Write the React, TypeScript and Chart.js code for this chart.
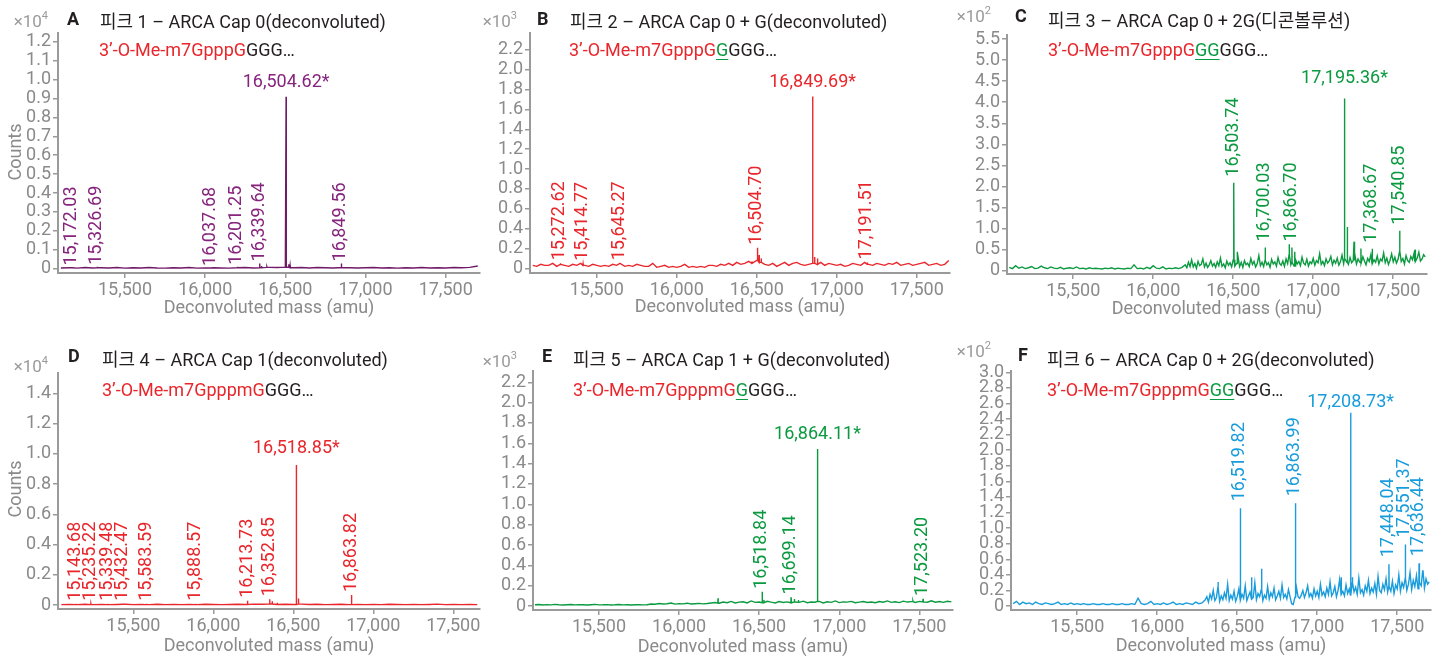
import React, { useEffect, useRef } from "react";
import { Chart, registerables } from "chart.js";

Chart.register(...registerables);

const FONT = "Roboto, 'Noto Sans', 'Noto Sans CJK KR', sans-serif";
const TICK_COLOR = "#8a8a8a";
const AXIS_COLOR = "#9a9a9a";
const TITLE_COLOR = "#231f20";
const RED = "#e8262b";
const GREEN = "#0b9a40";
const PURPLE_LINE = "#701a68";
const PURPLE_TEXT = "#86247e";
const BLUE = "#199cdb";

const Y_AXIS_W = 58;
const X_AXIS_H = 30;
const TOP_PAD = 15;
const RIGHT_PAD = 4;

// shared x ticks (amu)
const X_TICKS = [15500, 16000, 16500, 17000, 17500];

// ---------- Panel A : 피크 1 (×10^4 counts) ----------
const A_Y_TICKS = [0, 0.1, 0.2, 0.3, 0.4, 0.5, 0.6, 0.7, 0.8, 0.9, 1.0, 1.1, 1.2];
const A_NOISE_START = 15100;
const A_NOISE_STEP = 50;
const A_NOISE = [
  0.004, 0.005, 0.003, 0.006, 0.004, 0.005, 0.004, 0.006, 0.003, 0.005,
  0.004, 0.006, 0.004, 0.003, 0.005, 0.004, 0.006, 0.003, 0.004, 0.005,
  0.004, 0.003, 0.005, 0.006, 0.004, 0.005, 0.007, 0.006, 0.008, 0.005,
  0.006, 0.004, 0.006, 0.005, 0.004, 0.006, 0.005, 0.004, 0.005, 0.006,
  0.004, 0.005, 0.003, 0.005, 0.004, 0.006, 0.004, 0.005, 0.004, 0.006,
  0.005, 0.007, 0.014,
];
const A_PEAK_MASS = [15172.03, 15326.69, 16037.68, 16201.25, 16339.64, 16352, 16385, 16504.62, 16521, 16530, 16849.56];
const A_PEAK_HEIGHT = [0.006, 0.01, 0.004, 0.01, 0.028, 0.014, 0.01, 0.909, 0.024, 0.015, 0.028];
const A_PEAK_LABEL = [1, 1, 1, 1, 1, 0, 0, 2, 0, 0, 1];

// ---------- Panel B : 피크 2 (×10^3 counts) ----------
const B_Y_TICKS = [0, 0.2, 0.4, 0.6, 0.8, 1.0, 1.2, 1.4, 1.6, 1.8, 2.0, 2.2];
const B_NOISE_START = 15100;
const B_NOISE_STEP = 25;
const B_NOISE = [
  0.03, 0.02, 0.04, 0.03, 0.03, 0.05, 0.02, 0.04, 0.03, 0.02,
  0.04, 0.03, 0.05, 0.03, 0.02, 0.04, 0.03, 0.02, 0.03, 0.02,
  0.04, 0.03, 0.05, 0.02, 0.03, 0.02, 0.04, 0.03, 0.02,
  0.02, 0.05, 0.01, 0.02, 0.03, 0.01, 0.02, 0.01, 0.02, 0.04,
  0.01, 0.02, 0.01, 0.02, 0.01, 0.03,
  0.03, 0.02, 0.04, 0.03, 0.05, 0.03, 0.06, 0.04, 0.05, 0.07, 0.05, 0.08,
  0.06, 0.04, 0.03, 0.05, 0.02, 0.04, 0.06, 0.03, 0.05, 0.06, 0.04, 0.03, 0.04,
  0.05, 0.04, 0.06, 0.03, 0.05, 0.04, 0.03, 0.04, 0.02, 0.03,
  0.05, 0.04, 0.03, 0.06, 0.04, 0.03, 0.05, 0.04, 0.03, 0.05,
  0.04, 0.06, 0.03, 0.04, 0.05, 0.03, 0.04, 0.05, 0.06, 0.03,
  0.04, 0.05, 0.03, 0.04, 0.08,
];
const B_PEAK_MASS = [15272.62, 15414.77, 15645.27, 16470, 16504.7, 16515, 16528, 16849.69, 16862, 16880, 17191.51];
const B_PEAK_HEIGHT = [0.05, 0.045, 0.05, 0.07, 0.208, 0.134, 0.1, 1.73, 0.114, 0.1, 0.06];
const B_PEAK_LABEL = [1, 1, 1, 0, 1, 0, 0, 2, 0, 0, 1];

// ---------- Panel C : 피크 3 (×10^2 counts) ----------
const C_Y_TICKS = [0, 0.5, 1.0, 1.5, 2.0, 2.5, 3.0, 3.5, 4.0, 4.5, 5.0, 5.5];
const C_NOISE_LOW_START = 15100;
const C_NOISE_LOW_STEP = 20;
const C_NOISE_LOW = [
  0.08, 0.05, 0.12, 0.06, 0.09, 0.05, 0.07, 0.1, 0.05, 0.06,
  0.11, 0.07, 0.05, 0.09, 0.06, 0.05, 0.08, 0.04, 0.06, 0.07,
  0.05, 0.09, 0.05, 0.06, 0.04, 0.07, 0.05, 0.06, 0.05, 0.04,
  0.06, 0.05, 0.07, 0.04, 0.06, 0.05, 0.04, 0.06, 0.05, 0.14,
  0.05, 0.06, 0.04, 0.08, 0.05, 0.12, 0.06, 0.05, 0.09, 0.04,
  0.06, 0.05, 0.07, 0.05, 0.08,
];
const C_NOISE_HIGH_START = 16200;
const C_NOISE_HIGH_STEP = 10;
const C_NOISE_HIGH = [
  0.14, 0.07, 0.2, 0.1, 0.26, 0.09, 0.17, 0.06, 0.22, 0.12,
  0.15, 0.28, 0.09, 0.18, 0.08, 0.14, 0.24, 0.11, 0.17, 0.08,
  0.21, 0.12, 0.3, 0.1, 0.16, 0.07, 0.23, 0.13, 0.19, 0.09,
  0.26, 0.11, 0.17, 0.33, 0.1, 0.2, 0.08, 0.24, 0.14, 0.18,
  0.1, 0.29, 0.15, 0.22, 0.09, 0.17, 0.36, 0.12, 0.2, 0.1,
  0.25, 0.14, 0.19, 0.08, 0.27, 0.16, 0.21, 0.11, 0.31, 0.17,
  0.13, 0.23, 0.1, 0.28, 0.17, 0.38, 0.14, 0.2, 0.11, 0.26,
  0.16, 0.22, 0.12, 0.32, 0.18, 0.14, 0.27, 0.11, 0.21, 0.17,
  0.29, 0.13, 0.24, 0.19, 0.4, 0.15, 0.22, 0.12, 0.28, 0.18,
  0.23, 0.34, 0.14, 0.25, 0.18, 0.3, 0.13, 0.21, 0.37, 0.17,
  0.27, 0.2, 0.15, 0.31, 0.19, 0.24, 0.43, 0.16, 0.28, 0.21,
  0.18, 0.33, 0.23, 0.14, 0.29, 0.22, 0.38, 0.17, 0.26, 0.2,
  0.35, 0.16, 0.28, 0.23, 0.42, 0.19, 0.3, 0.15, 0.25, 0.4,
  0.21, 0.32, 0.18, 0.27, 0.46, 0.22, 0.29, 0.16, 0.36, 0.24,
  0.2, 0.34, 0.26, 0.41, 0.22, 0.3, 0.44, 0.23, 0.28, 0.38,
  0.33,
];
const C_PEAK_MASS = [16503.74, 16525, 16700.03, 16850, 16866.7, 16885, 17195.36, 17213, 17255, 17298, 17368.67, 17540.85, 17636];
const C_PEAK_HEIGHT = [2.09, 0.45, 0.55, 0.63, 0.55, 0.45, 4.09, 1.04, 0.69, 0.53, 0.52, 0.95, 0.5];
const C_PEAK_LABEL = [1, 0, 1, 0, 1, 0, 2, 0, 0, 0, 1, 1, 0];

// ---------- Panel D : 피크 4 (×10^4 counts) ----------
const D_Y_TICKS = [0, 0.2, 0.4, 0.6, 0.8, 1.0, 1.2, 1.4];
const D_NOISE_START = 15050;
const D_NOISE_STEP = 50;
const D_NOISE = [
  0.003, 0.004, 0.003, 0.005, 0.003, 0.004, 0.003, 0.004, 0.005, 0.003,
  0.004, 0.003, 0.005, 0.003, 0.004, 0.003, 0.004, 0.003, 0.005, 0.004,
  0.003, 0.004, 0.005, 0.004, 0.006, 0.005, 0.007, 0.004, 0.005, 0.004,
  0.006, 0.004, 0.005, 0.003, 0.004, 0.005, 0.003, 0.004, 0.003, 0.004,
  0.003, 0.005, 0.004, 0.003, 0.004, 0.003, 0.004, 0.006, 0.003, 0.004,
  0.003, 0.004, 0.003,
];
const D_PEAK_MASS = [15143.68, 15235.22, 15339.48, 15432.47, 15583.59, 15888.57, 16213.73, 16352.85, 16368, 16400, 16518.85, 16532, 16863.82];
const D_PEAK_HEIGHT = [0.008, 0.008, 0.008, 0.008, 0.008, 0.008, 0.028, 0.038, 0.025, 0.015, 0.926, 0.044, 0.066];
const D_PEAK_LABEL = [1, 1, 1, 1, 1, 1, 1, 1, 0, 0, 2, 0, 1];

// ---------- Panel E : 피크 5 (×10^3 counts) ----------
const E_Y_TICKS = [0, 0.2, 0.4, 0.6, 0.8, 1.0, 1.2, 1.4, 1.6, 1.8, 2.0, 2.2];
const E_NOISE_START = 15100;
const E_NOISE_STEP = 25;
const E_NOISE = [
  0.012, 0.015, 0.01, 0.014, 0.011, 0.016, 0.012, 0.01, 0.013, 0.015,
  0.011, 0.014, 0.012, 0.01, 0.013, 0.016, 0.011, 0.012, 0.014, 0.01,
  0.012, 0.015, 0.011, 0.013, 0.01, 0.012, 0.014, 0.011, 0.013,
  0.02, 0.018, 0.025, 0.02, 0.022, 0.03, 0.019, 0.024, 0.021, 0.028,
  0.02, 0.023, 0.026, 0.021, 0.025, 0.03,
  0.035, 0.028, 0.04, 0.032, 0.045, 0.03, 0.038, 0.042, 0.031, 0.05,
  0.036, 0.04, 0.033, 0.047, 0.038, 0.03, 0.044, 0.035, 0.041, 0.032,
  0.04, 0.036, 0.048, 0.033, 0.04, 0.037, 0.045, 0.03, 0.042, 0.036,
  0.05, 0.034, 0.041, 0.038, 0.046, 0.032, 0.039, 0.044, 0.035, 0.04,
  0.033, 0.045, 0.038, 0.05, 0.036, 0.042, 0.034, 0.048, 0.039, 0.043,
  0.035, 0.046, 0.04, 0.037, 0.052, 0.038, 0.044, 0.036, 0.047, 0.041,
];
const E_PEAK_MASS = [16243, 16518.84, 16530, 16699.14, 16720, 16745, 16864.11, 17460, 17523.2];
const E_PEAK_HEIGHT = [0.076, 0.14, 0.06, 0.085, 0.07, 0.06, 1.544, 0.05, 0.07];
const E_PEAK_LABEL = [0, 1, 0, 1, 0, 0, 2, 0, 1];

// ---------- Panel F : 피크 6 (×10^2 counts) ----------
const F_Y_TICKS = [0, 0.2, 0.4, 0.6, 0.8, 1.0, 1.2, 1.4, 1.6, 1.8, 2.0, 2.2, 2.4, 2.6, 2.8, 3.0];
const F_NOISE_LOW_START = 15100;
const F_NOISE_LOW_STEP = 20;
const F_NOISE_LOW = [
  0.03, 0.06, 0.02, 0.05, 0.03, 0.04, 0.02, 0.05, 0.03, 0.02,
  0.04, 0.03, 0.02, 0.03, 0.05, 0.02, 0.03, 0.02, 0.04, 0.02,
  0.03, 0.02, 0.03, 0.02, 0.02, 0.03, 0.02, 0.02, 0.03, 0.02,
  0.02, 0.03, 0.02, 0.02, 0.03, 0.02, 0.02, 0.03, 0.02, 0.1,
  0.03, 0.02, 0.03, 0.06, 0.02, 0.03, 0.02, 0.04, 0.02, 0.03,
  0.05, 0.02, 0.03, 0.02, 0.04, 0.03, 0.02, 0.05, 0.03, 0.04,
];
const F_NOISE_HIGH_START = 16300;
const F_NOISE_HIGH_STEP = 10;
const F_NOISE_HIGH = [
  0.08, 0.12, 0.05, 0.15, 0.09, 0.2, 0.07, 0.11, 0.24, 0.06,
  0.13, 0.08, 0.17, 0.1, 0.28, 0.07, 0.14, 0.09, 0.19, 0.06,
  0.12, 0.22, 0.08, 0.15, 0.1, 0.26, 0.07, 0.13, 0.18, 0.09,
  0.11, 0.3, 0.08, 0.16, 0.12, 0.21, 0.07, 0.14, 0.1, 0.25,
  0.09, 0.17, 0.12, 0.23, 0.08, 0.13, 0.19, 0.1, 0.27, 0.11,
  0.15, 0.09, 0.21, 0.12, 0.03, 0.02, 0.11, 0.24, 0.12, 0.1,
  0.14, 0.2, 0.11, 0.17, 0.26, 0.12, 0.16, 0.1, 0.22, 0.13,
  0.19, 0.11, 0.28, 0.14, 0.18, 0.12, 0.23, 0.15, 0.31, 0.13,
  0.17, 0.25, 0.12, 0.2, 0.34, 0.15, 0.19, 0.13, 0.27, 0.16,
  0.22, 0.14, 0.3, 0.18, 0.24, 0.15, 0.36, 0.17, 0.21, 0.14,
  0.26, 0.19, 0.33, 0.16, 0.23, 0.18, 0.29, 0.15, 0.38, 0.2,
  0.17, 0.28, 0.21, 0.35, 0.18, 0.25, 0.19, 0.32, 0.16, 0.27,
  0.22, 0.4, 0.19, 0.3, 0.24, 0.36, 0.2, 0.28, 0.43, 0.21,
  0.33, 0.25, 0.39, 0.22, 0.3, 0.26, 0.45, 0.23, 0.35, 0.28,
  0.31,
];
const F_PEAK_MASS = [16380, 16519.82, 16590, 16653, 16863.99, 17150, 17208.73, 17220, 17448.04, 17551.37, 17636.44, 17660];
const F_PEAK_HEIGHT = [0.31, 1.254, 0.37, 0.48, 1.318, 0.37, 2.48, 0.37, 0.535, 0.79, 0.55, 0.45];
const F_PEAK_LABEL = [0, 1, 0, 0, 1, 0, 2, 0, 1, 1, 1, 0];

type Segment = { start: number; step: number; values: number[] };

type Panel = {
  key: string;
  letter: string;
  title: string;
  subRed: string;
  subGreen: string;
  exp: string;
  noise: Segment[];
  mass: number[];
  height: number[];
  kind: number[];
  yTicks: number[];
  yMin: number;
  yMax: number;
  xMin: number;
  xMax: number;
  rect: number[];
  color: string;
  textColor: string;
  labelGap: number;
  mainGap: number;
  letterPos: number[];
  titlePos: number[];
  subPos: number[];
  expPos: number[];
  xTitleTop: number;
  counts?: number[];
};

const PANELS: Panel[] = [
  {
    key: "A", letter: "A", title: "피크 1 – ARCA Cap 0(deconvoluted)", subRed: "3’-O-Me-m7GpppG", subGreen: "", exp: "4",
    noise: [{ start: A_NOISE_START, step: A_NOISE_STEP, values: A_NOISE }],
    mass: A_PEAK_MASS, height: A_PEAK_HEIGHT, kind: A_PEAK_LABEL, yTicks: A_Y_TICKS,
    yMin: -0.0227, yMax: 1.246, xMin: 15082, xMax: 17714,
    rect: [58, 33, 480, 273], color: PURPLE_LINE, textColor: PURPLE_TEXT, labelGap: 2, mainGap: 10,
    letterPos: [67, 9], titlePos: [100, 11.5], subPos: [99, 40], expPos: [48, 11], xTitleTop: 296.5, counts: [14.5, 152],
  },
  {
    key: "B", letter: "B", title: "피크 2 – ARCA Cap 0 + G(deconvoluted)", subRed: "3’-O-Me-m7GpppG", subGreen: "G", exp: "3",
    noise: [{ start: B_NOISE_START, step: B_NOISE_STEP, values: B_NOISE }],
    mass: B_PEAK_MASS, height: B_PEAK_HEIGHT, kind: B_PEAK_LABEL, yTicks: B_Y_TICKS,
    yMin: -0.047, yMax: 2.371, xMin: 15083, xMax: 17708,
    rect: [530, 33, 950, 273], color: RED, textColor: RED, labelGap: 3, mainGap: 10,
    letterPos: [537, 8.5], titlePos: [570, 11.5], subPos: [569, 40], expPos: [517, 11], xTitleTop: 296,
  },
  {
    key: "C", letter: "C", title: "피크 3 – ARCA Cap 0 + 2G(디콘볼루션)", subRed: "3’-O-Me-m7GpppG", subGreen: "GG", exp: "2",
    noise: [
      { start: C_NOISE_LOW_START, step: C_NOISE_LOW_STEP, values: C_NOISE_LOW },
      { start: C_NOISE_HIGH_START, step: C_NOISE_HIGH_STEP, values: C_NOISE_HIGH },
    ],
    mass: C_PEAK_MASS, height: C_PEAK_HEIGHT, kind: C_PEAK_LABEL, yTicks: C_Y_TICKS,
    yMin: -0.078, yMax: 5.595, xMin: 15086, xMax: 17711,
    rect: [1007, 35, 1427, 274], color: GREEN, textColor: GREEN, labelGap: 6, mainGap: 15,
    letterPos: [1015, 6], titlePos: [1048, 10.5], subPos: [1048, 40], expPos: [991, 6], xTitleTop: 298,
  },
  {
    key: "D", letter: "D", title: "피크 4 – ARCA Cap 1(deconvoluted)", subRed: "3’-O-Me-m7GpppmG", subGreen: "", exp: "4",
    noise: [{ start: D_NOISE_START, step: D_NOISE_STEP, values: D_NOISE }],
    mass: D_PEAK_MASS, height: D_PEAK_HEIGHT, kind: D_PEAK_LABEL, yTicks: D_Y_TICKS,
    yMin: -0.026, yMax: 1.534, xMin: 15029, xMax: 17667,
    rect: [58, 373, 480, 609], color: RED, textColor: RED, labelGap: 3, mainGap: 12,
    letterPos: [68, 346], titlePos: [102, 349.5], subPos: [102, 380], expPos: [48, 356], xTitleTop: 634.5, counts: [14.5, 489],
  },
  {
    key: "E", letter: "E", title: "피크 5 – ARCA Cap 1 + G(deconvoluted)", subRed: "3’-O-Me-m7GpppmG", subGreen: "G", exp: "3",
    noise: [{ start: E_NOISE_START, step: E_NOISE_STEP, values: E_NOISE }],
    mass: E_PEAK_MASS, height: E_PEAK_HEIGHT, kind: E_PEAK_LABEL, yTicks: E_Y_TICKS,
    yMin: -0.039, yMax: 2.311, xMin: 15088, xMax: 17710,
    rect: [533, 371, 953, 610], color: GREEN, textColor: GREEN, labelGap: 3, mainGap: 10,
    letterPos: [542, 346], titlePos: [573, 349.5], subPos: [573, 379.5], expPos: [517, 351], xTitleTop: 635.5,
  },
  {
    key: "F", letter: "F", title: "피크 6 – ARCA Cap 0 + 2G(deconvoluted)", subRed: "3’-O-Me-m7GpppmG", subGreen: "GG", exp: "2",
    noise: [
      { start: F_NOISE_LOW_START, step: F_NOISE_LOW_STEP, values: F_NOISE_LOW },
      { start: F_NOISE_HIGH_START, step: F_NOISE_HIGH_STEP, values: F_NOISE_HIGH },
    ],
    mass: F_PEAK_MASS, height: F_PEAK_HEIGHT, kind: F_PEAK_LABEL, yTicks: F_Y_TICKS,
    yMin: -0.051, yMax: 3.017, xMin: 15086, xMax: 17711,
    rect: [1011, 371, 1431, 610], color: BLUE, textColor: BLUE, labelGap: 7, mainGap: 6,
    letterPos: [1018, 345], titlePos: [1047, 350], subPos: [1047, 379.5], expPos: [991, 341], xTitleTop: 635,
  },
];

function fmtMass(m: number) {
  return m.toLocaleString("en-US", { minimumFractionDigits: 2, maximumFractionDigits: 2 });
}

function buildSpectrum(p: Panel) {
  const noisePts: { x: number; y: number }[] = [];
  p.noise.forEach((seg) => {
    seg.values.forEach((v, i) => noisePts.push({ x: seg.start + i * seg.step, y: v }));
  });
  noisePts.sort((a, b) => a.x - b.x);
  const pts = noisePts.slice();
  p.mass.forEach((m, i) => {
    let base = noisePts[0].y;
    let best = Infinity;
    noisePts.forEach((q) => {
      const d = Math.abs(q.x - m);
      if (d < best) {
        best = d;
        base = q.y;
      }
    });
    base = Math.min(base, p.height[i]);
    pts.push({ x: m - 1.2, y: base }, { x: m, y: p.height[i] }, { x: m + 1.2, y: base });
  });
  pts.sort((a, b) => a.x - b.x);
  return pts;
}

function makeLabelPlugin(p: Panel) {
  return {
    id: "peakLabels" + p.key,
    afterDatasetsDraw(chart: any) {
      const { ctx } = chart;
      const xs = chart.scales.x;
      const ys = chart.scales.y;
      ctx.save();
      ctx.fillStyle = p.textColor;
      ctx.font = `18px ${FONT}`;
      p.mass.forEach((m, i) => {
        const kind = p.kind[i];
        if (!kind) return;
        const px = xs.getPixelForValue(m);
        const py = ys.getPixelForValue(p.height[i]);
        const text = fmtMass(m);
        if (kind === 2) {
          ctx.textAlign = "center";
          ctx.textBaseline = "alphabetic";
          ctx.fillText(text + "*", px, py - p.mainGap);
        } else {
          ctx.save();
          ctx.translate(px + 4, py - p.labelGap);
          ctx.rotate(-Math.PI / 2);
          ctx.textAlign = "left";
          ctx.textBaseline = "alphabetic";
          ctx.fillText(text, 0, 0);
          ctx.restore();
        }
      });
      ctx.restore();
    },
  };
}

function SpectrumChart({ p }: { p: Panel }) {
  const ref = useRef<HTMLCanvasElement>(null);
  const [L, T, R, B] = p.rect;
  const width = R - L + Y_AXIS_W + RIGHT_PAD;
  const height = B - T + TOP_PAD + X_AXIS_H;

  useEffect(() => {
    if (!ref.current) return;
    const data = buildSpectrum(p);
    const tickFont = { family: FONT, size: 18 };
    const chart = new Chart(ref.current, {
      type: "line",
      data: {
        datasets: [
          { data, borderColor: p.color, borderWidth: 1.4, pointRadius: 0, tension: 0, borderJoinStyle: "miter" },
        ],
      },
      options: {
        animation: false,
        responsive: false,
        events: [],
        layout: { padding: { top: TOP_PAD, right: RIGHT_PAD, left: 0, bottom: 0 } },
        plugins: { legend: { display: false }, tooltip: { enabled: false } },
        scales: {
          x: {
            type: "linear",
            min: p.xMin,
            max: p.xMax,
            afterBuildTicks: (s: any) => {
              s.ticks = X_TICKS.map((v) => ({ value: v }));
            },
            afterFit: (s: any) => {
              s.height = X_AXIS_H;
            },
            ticks: {
              autoSkip: false,
              maxRotation: 0,
              padding: 2,
              color: TICK_COLOR,
              font: tickFont,
              callback: (v: any) => Number(v).toLocaleString("en-US"),
            },
            grid: { drawOnChartArea: false, drawTicks: true, tickLength: 5, color: AXIS_COLOR, lineWidth: 1.5 },
            border: { display: true, color: AXIS_COLOR, width: 2 },
          },
          y: {
            type: "linear",
            min: p.yMin,
            max: p.yMax,
            afterBuildTicks: (s: any) => {
              s.ticks = p.yTicks.map((v) => ({ value: v }));
            },
            afterFit: (s: any) => {
              s.width = Y_AXIS_W;
            },
            ticks: {
              autoSkip: false,
              padding: 2,
              color: TICK_COLOR,
              font: tickFont,
              callback: (v: any) => (Number(v) === 0 ? "0" : Number(v).toFixed(1)),
            },
            grid: { drawOnChartArea: false, drawTicks: true, tickLength: 5, color: AXIS_COLOR, lineWidth: 1.5 },
            border: { display: true, color: AXIS_COLOR, width: 2 },
          },
        },
      },
      plugins: [makeLabelPlugin(p)],
    } as any);
    return () => chart.destroy();
  }, [p]);

  return (
    <canvas
      ref={ref}
      width={width}
      height={height}
      style={{ position: "absolute", left: L - Y_AXIS_W, top: T - TOP_PAD, width, height }}
    />
  );
}

const textBase: React.CSSProperties = {
  position: "absolute",
  fontFamily: FONT,
  fontSize: 18,
  lineHeight: "20px",
  whiteSpace: "nowrap",
};

function PanelTexts({ p }: { p: Panel }) {
  const [L, , R] = p.rect;
  return (
    <>
      <div style={{ ...textBase, left: p.letterPos[0], top: p.letterPos[1], fontWeight: 700, color: TITLE_COLOR }}>{p.letter}</div>
      <div style={{ ...textBase, left: p.titlePos[0], top: p.titlePos[1], color: TITLE_COLOR }}>{p.title}</div>
      <div style={{ ...textBase, left: p.subPos[0], top: p.subPos[1] }}>
        <span style={{ color: RED }}>{p.subRed}</span>
        {p.subGreen ? (
          <span style={{ color: GREEN, textDecoration: "underline", textDecorationColor: GREEN, textUnderlineOffset: 3 }}>
            {p.subGreen}
          </span>
        ) : null}
        <span style={{ color: TITLE_COLOR }}>GGG…</span>
      </div>
      <div
        style={{ ...textBase, left: p.expPos[0], top: p.expPos[1], fontSize: 17, color: "#9a9a9a", transform: "translateX(-100%)" }}
      >
        ×10<sup style={{ fontSize: 11, verticalAlign: "top", lineHeight: "11px", position: "relative", top: -1 }}>{p.exp}</sup>
      </div>
      <div style={{ ...textBase, left: (L + R) / 2, top: p.xTitleTop, color: TICK_COLOR, transform: "translateX(-50%)" }}>
        Deconvoluted mass (amu)
      </div>
      {p.counts ? (
        <div
          style={{
            ...textBase,
            left: p.counts[0],
            top: p.counts[1],
            color: TICK_COLOR,
            transform: "translate(-50%, -50%) rotate(-90deg)",
          }}
        >
          Counts
        </div>
      ) : null}
    </>
  );
}

export default function App() {
  return (
    <div style={{ position: "absolute", left: 0, top: 0, width: 1441, height: 658, background: "#fff", overflow: "hidden" }}>
      {PANELS.map((p) => (
        <SpectrumChart key={p.key} p={p} />
      ))}
      {PANELS.map((p) => (
        <PanelTexts key={"t" + p.key} p={p} />
      ))}
    </div>
  );
}
